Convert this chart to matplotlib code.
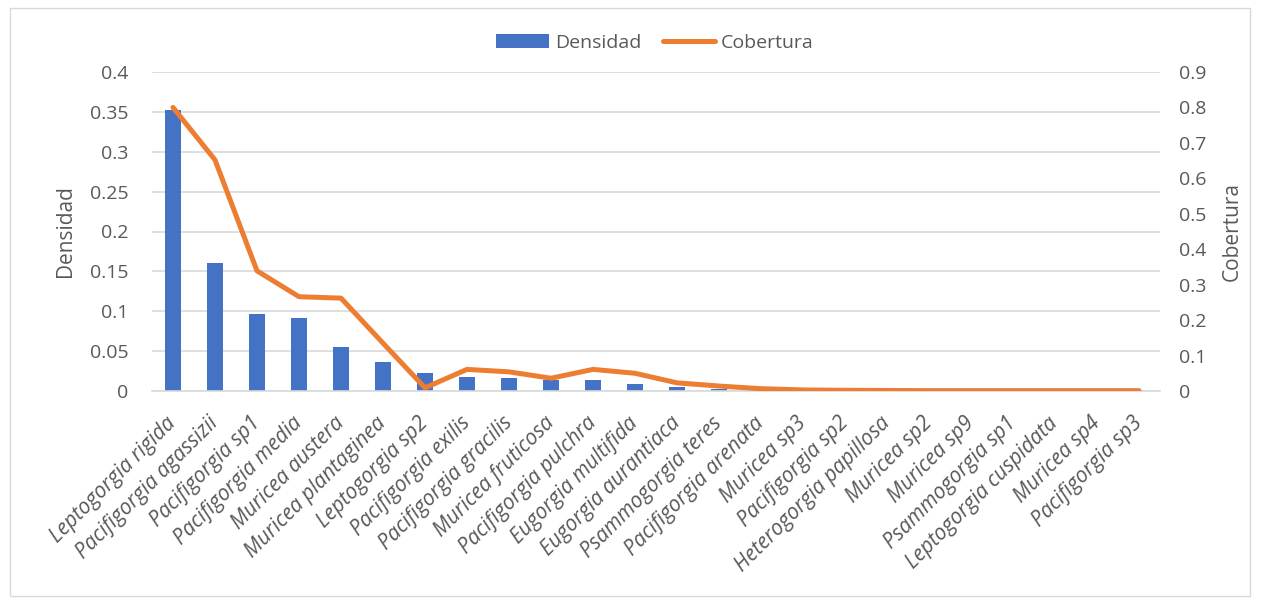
import matplotlib
matplotlib.use("Agg")
import matplotlib.pyplot as plt
from matplotlib.patches import Rectangle
from matplotlib.ticker import FixedLocator, FuncFormatter

species = [
    "Leptogorgia rigida", "Pacifigorgia agassizii", "Pacifigorgia sp1",
    "Pacifigorgia media", "Muricea austera", "Muricea plantaginea",
    "Leptogorgia sp2", "Pacifigorgia exilis", "Pacifigorgia gracilis",
    "Muricea fruticosa", "Pacifigorgia pulchra", "Eugorgia multifida",
    "Eugorgia aurantiaca", "Psammogorgia teres", "Pacifigorgia arenata",
    "Muricea sp3", "Pacifigorgia sp2", "Heterogorgia papillosa",
    "Muricea sp2", "Muricea sp9", "Psammogorgia sp1",
    "Leptogorgia cuspidata", "Muricea sp4", "Pacifigorgia sp3",
]
densidad = [
    0.352, 0.161, 0.097, 0.092, 0.055, 0.036,
    0.023, 0.017, 0.016, 0.014, 0.014, 0.009,
    0.0045, 0.002, 0.001, 0.0005, 0.0004, 0.0003,
    0.0003, 0.0003, 0.0002, 0.0002, 0.0002, 0.0002,
]
cobertura = [
    0.800, 0.652, 0.339, 0.266, 0.262, 0.135,
    0.009, 0.061, 0.054, 0.036, 0.061, 0.050,
    0.023, 0.014, 0.0065, 0.003, 0.002, 0.0015,
    0.001, 0.001, 0.001, 0.001, 0.001, 0.001,
]
left_ticks = [0, 0.05, 0.1, 0.15, 0.2, 0.25, 0.3, 0.35, 0.4]
right_ticks = [0, 0.1, 0.2, 0.3, 0.4, 0.5, 0.6, 0.7, 0.8, 0.9]

BLUE = "#4472C4"
ORANGE = "#ED7D31"
GRID = "#D9D9D9"
TEXT = "#595959"
FONT = "Open Sans"

plt.rcParams["font.family"] = [FONT, "DejaVu Sans"]

fig = plt.figure(figsize=(12.61, 6.07), dpi=100)
fig.patches.append(Rectangle((10 / 1261, 1 - 596 / 607), 1240 / 1261, 588 / 607,
                             transform=fig.transFigure, fill=False,
                             edgecolor=GRID, linewidth=1.0))

ax = fig.add_axes([152 / 1261, 1 - 391 / 607, 1008 / 1261, 319 / 607])
x = list(range(len(species)))
bars = ax.bar(x, densidad, width=0.4, color=BLUE, zorder=2, label="Densidad")
ax.set_xlim(-0.5, len(species) - 0.5)
ax.set_ylim(0, 0.4)
ax.yaxis.set_major_locator(FixedLocator(left_ticks))
ax.yaxis.set_major_formatter(FuncFormatter(lambda v, p: f"{v:g}"))
ax.grid(axis="y", color=GRID, linewidth=1.2, zorder=0)
ax.set_axisbelow(True)
for s in ["top", "right", "left"]:
    ax.spines[s].set_visible(False)
ax.spines["bottom"].set_color(GRID)
ax.spines["bottom"].set_linewidth(1.2)
ax.tick_params(axis="both", length=0, colors=TEXT, labelsize=14)
ax.tick_params(axis="y", pad=17)
ax.set_xticks(x)
ax.set_xticklabels(species, rotation=45, ha="right", va="center",
                   rotation_mode="anchor",
                   fontstyle="italic", fontsize=15, color=TEXT)
ax.tick_params(axis="x", pad=21)
ax.set_ylabel("Densidad", fontsize=15, color=TEXT, labelpad=10)

ax2 = ax.twinx()
line, = ax2.plot(x, cobertura, color=ORANGE, linewidth=3.6,
                 solid_capstyle="round", solid_joinstyle="round", zorder=3,
                 label="Cobertura")
ax2.set_ylim(0, 0.9)
ax2.yaxis.set_major_locator(FixedLocator(right_ticks))
ax2.yaxis.set_major_formatter(FuncFormatter(lambda v, p: f"{v:g}"))
for s in ["top", "right", "left", "bottom"]:
    ax2.spines[s].set_visible(False)
ax2.tick_params(axis="y", length=0, colors=TEXT, labelsize=14, pad=14)
ax2.set_ylabel("Cobertura", fontsize=15, color=TEXT, labelpad=11)

fig.legend([bars, line], ["Densidad", "Cobertura"], loc="center",
           bbox_to_anchor=(655 / 1261, 1 - 43 / 607), ncol=2, frameon=False,
           fontsize=14, handlelength=2.7, handleheight=0.7,
           columnspacing=1.1, handletextpad=0.3, labelcolor=TEXT)

fig.savefig("out.png", dpi=100)
